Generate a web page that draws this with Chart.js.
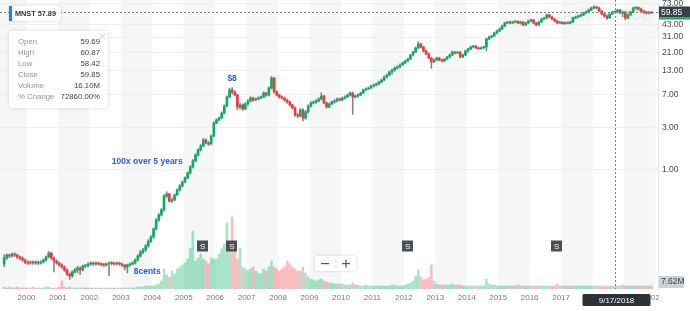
<!DOCTYPE html>
<html><head><meta charset="utf-8">
<script src="https://cdn.jsdelivr.net/npm/chart.js@4.4.1/dist/chart.umd.min.js"></script>
<style>html,body{margin:0;padding:0;background:#fff;}#wrap{width:690px;height:311px;position:relative;overflow:hidden}</style>
</head><body><div id="wrap"><canvas id="c" width="690" height="311"></canvas></div>
<script>
// ---- DATA (monthly candles, split-adjusted) ----
const startYear = 1999, startMonth = 4; // first candle: April 1999
const openP = [
 0.0880,0.1029,0.1112,0.1083,0.1141,0.1112,0.1056,0.1029,0.0977,
 0.0928,0.0904,0.0928,0.0904,0.0928,0.0904,0.0928,0.0977,0.1056,0.1171,0.1029,0.0952,
 0.0904,0.0859,0.0815,0.0755,0.0680,0.0646,0.0717,0.0755,0.0795,0.0755,0.0837,0.0852,
 0.0881,0.0904,0.0881,0.0904,0.0881,0.0868,0.0859,0.0881,0.0904,0.0890,0.0881,0.0904,
 0.0881,0.0859,0.0815,0.0859,0.0881,0.0904,0.0977,0.1083,0.1202,0.1266,0.1404,0.1597,
 0.1771,0.2178,0.2748,0.3127,0.3558,0.5109,0.5380,0.4490,0.4607,0.5242,0.5965,0.6615,
 0.7335,0.8133,0.9255,1.081,1.262,1.474,1.677,1.860,2.171,2.009,1.958,2.407,
 3.369,3.640,3.833,4.361,5.226,6.594,7.901,7.503,6.943,5.093,5.363,4.836,
 5.503,5.946,6.426,6.102,6.262,6.426,6.594,7.312,6.943,8.321,10.77,7.503,
 6.943,6.594,6.426,6.102,5.795,5.363,4.963,4.142,4.036,4.713,3.833,4.475,
 5.226,5.647,5.795,5.946,6.262,6.767,5.647,5.093,5.503,5.795,5.946,6.262,
 6.102,6.426,6.594,6.943,7.312,6.594,6.750,6.943,7.312,7.901,8.108,8.321,
 8.761,8.991,9.226,9.716,10.23,11.05,11.64,12.58,13.25,13.95,14.32,15.08,
 15.88,16.72,17.60,19.51,21.09,23.39,25.94,24.00,21.64,20.03,18.06,16.29,
 17.15,18.06,17.15,16.71,17.60,18.53,19.51,21.09,20.55,20.95,18.53,19.51,
 21.64,22.79,24.00,24.50,23.39,22.90,23.60,24.00,29.51,31.08,31.89,34.46,
 36.29,38.22,41.30,44.62,45.79,44.62,45.79,46.60,44.62,45.79,42.38,44.62,
 46.99,48.22,44.62,42.38,45.79,49.48,50.78,54.87,52.11,49.48,46.99,44.62,
 45.30,43.90,45.20,44.30,45.79,50.78,52.11,53.47,54.87,57.78,59.28,62.43,
 65.75,67.46,65.75,60.84,56.30,53.47,50.78,56.30,59.28,59.85,62.43,57.78,
 59.28,50.78,54.87,59.28,65.75,66.60,64.07,60.84,59.28,57.78,58.60
];
const highP = [
 0.112,0.115,0.114,0.117,0.118,0.114,0.109,0.106,0.101,
 0.0955,0.0960,0.0955,0.0960,0.0950,0.0960,0.1010,0.1090,0.1220,0.1200,0.1060,0.0985,
 0.0930,0.0890,0.0840,0.0780,0.0700,0.0740,0.0790,0.0830,0.0820,0.0860,0.0870,0.0910,
 0.0935,0.0930,0.0935,0.0930,0.0910,0.0900,0.0910,0.0935,0.0940,0.0925,0.0935,0.0925,
 0.0900,0.0870,0.0880,0.0910,0.0940,0.1010,0.1120,0.1250,0.1320,0.1460,0.1650,0.1840,
 0.2250,0.2850,0.3250,0.3700,0.5300,0.5700,0.5450,0.4850,0.5400,0.6150,0.6850,0.7550,
 0.840,0.955,1.120,1.310,1.530,1.740,1.930,2.260,2.240,2.080,2.480,3.480,
 3.760,3.960,4.500,5.400,6.800,8.300,8.400,7.750,7.100,5.600,5.550,5.700,
 6.150,6.650,6.600,6.450,6.650,6.800,7.550,7.450,8.600,11.20,10.90,7.750,
 7.100,6.800,6.600,6.250,5.950,5.500,5.100,4.350,4.900,4.900,4.650,5.400,
 5.850,5.950,6.150,6.450,7.350,6.900,5.800,5.650,5.950,6.150,6.450,6.400,
 6.600,6.800,7.150,7.550,7.500,6.950,7.150,7.500,8.100,8.350,8.550,9.000,
 9.250,9.500,9.950,10.50,11.35,11.95,12.90,13.60,14.40,14.80,15.50,16.30,
 17.10,18.00,19.90,21.60,24.00,27.50,26.50,24.50,22.20,20.60,18.50,17.70,
 18.50,18.40,17.60,17.90,18.90,20.00,21.70,21.50,21.40,21.30,19.90,22.10,
 23.30,24.60,25.10,24.90,23.80,24.10,24.60,30.20,31.80,32.60,35.20,37.10,
 39.10,42.20,45.60,46.80,46.80,46.80,47.50,47.30,46.80,46.30,45.60,48.00,
 49.30,49.00,45.60,46.80,50.60,52.00,56.20,56.00,53.20,50.50,48.00,46.20,
 46.30,46.10,46.00,46.80,51.90,53.30,54.70,56.10,59.00,60.60,63.80,67.20,
 70.20,68.90,67.20,62.20,57.50,55.00,57.60,60.60,60.87,63.80,63.50,60.60,
 60.60,56.20,60.60,67.20,68.00,67.40,65.50,62.20,60.50,59.90,59.50
];
const lowP = [
 0.082,0.099,0.104,0.105,0.107,0.101,0.098,0.094,0.089,
 0.0870,0.0875,0.0870,0.0875,0.0870,0.0875,0.0900,0.0950,0.1030,0.0990,0.0720,0.0875,
 0.0830,0.0785,0.0725,0.0650,0.0590,0.0625,0.0700,0.0700,0.0670,0.0735,0.0800,0.0810,
 0.0850,0.0850,0.0855,0.0850,0.0845,0.0825,0.0830,0.0650,0.0860,0.0850,0.0860,0.0850,
 0.0830,0.0760,0.0700,0.0835,0.0860,0.0880,0.0950,0.1050,0.1150,0.1220,0.1360,0.1540,
 0.1720,0.2120,0.2650,0.3050,0.3450,0.4900,0.4350,0.4300,0.4500,0.5150,0.5800,0.6450,
 0.715,0.795,0.900,1.050,1.230,1.430,1.630,1.820,1.950,1.880,1.920,2.360,
 3.300,3.550,3.750,4.250,5.100,6.450,7.150,6.800,4.750,4.850,4.650,4.750,
 5.350,5.800,5.900,6.000,6.150,6.300,6.450,6.700,6.800,8.100,7.300,6.750,
 6.350,6.250,5.900,5.600,5.200,4.800,4.000,3.850,3.950,3.550,3.700,4.350,
 5.050,5.500,5.600,5.800,6.100,5.500,4.950,5.000,5.400,5.600,5.800,5.950,
 5.950,6.250,6.450,6.800,4.200,6.400,6.550,6.800,7.200,7.700,7.950,8.200,
 8.550,8.750,9.000,9.500,10.00,10.80,11.40,11.90,12.80,13.50,14.00,14.90,
 15.60,16.40,17.30,19.20,20.70,23.00,23.50,21.10,19.60,17.60,13.80,16.10,
 16.80,16.80,16.30,16.40,17.30,18.20,19.20,20.10,20.20,18.10,18.20,19.20,
 21.20,22.40,23.50,23.00,22.50,22.60,23.00,21.60,28.80,30.30,31.30,33.80,
 35.50,37.60,40.60,43.70,43.50,43.80,44.80,43.80,43.20,41.40,41.80,44.00,
 45.80,43.50,41.40,41.80,44.90,48.40,49.90,51.00,48.30,46.00,43.50,43.80,
 43.20,43.10,43.60,43.50,45.00,49.60,51.00,52.30,53.90,56.80,58.20,61.40,
 64.30,63.80,59.30,54.80,51.60,49.00,50.00,55.10,58.42,58.00,56.40,52.50,
 48.60,50.00,54.20,58.50,63.40,62.00,59.60,56.90,56.20,56.30,56.70
];
const closeP = [
 0.1029,0.1112,0.1083,0.1141,0.1112,0.1056,0.1029,0.0977,0.0928,
 0.0904,0.0928,0.0904,0.0928,0.0904,0.0928,0.0977,0.1056,0.1171,0.1029,0.0952,0.0904,
 0.0859,0.0815,0.0755,0.0680,0.0646,0.0717,0.0755,0.0795,0.0755,0.0837,0.0852,0.0881,
 0.0904,0.0881,0.0904,0.0881,0.0868,0.0859,0.0881,0.0904,0.0890,0.0881,0.0904,0.0881,
 0.0859,0.0815,0.0859,0.0881,0.0904,0.0977,0.1083,0.1202,0.1266,0.1404,0.1597,0.1771,
 0.2178,0.2748,0.3127,0.3558,0.5109,0.5380,0.4490,0.4607,0.5242,0.5965,0.6615,0.7335,
 0.8133,0.9255,1.081,1.262,1.474,1.677,1.860,2.171,2.009,1.958,2.407,3.369,
 3.640,3.833,4.361,5.226,6.594,7.901,7.503,6.943,5.093,5.363,4.836,5.503,
 5.946,6.426,6.102,6.262,6.426,6.594,7.312,6.943,8.321,10.77,7.503,6.943,
 6.594,6.426,6.102,5.795,5.363,4.963,4.142,4.036,4.713,3.833,4.475,5.226,
 5.647,5.795,5.946,6.262,6.767,5.647,5.093,5.503,5.795,5.946,6.262,6.102,
 6.426,6.594,6.943,7.312,6.594,6.750,6.943,7.312,7.901,8.108,8.321,8.761,
 8.991,9.226,9.716,10.23,11.05,11.64,12.58,13.25,13.95,14.32,15.08,15.88,
 16.72,17.60,19.51,21.09,23.39,25.94,24.00,21.64,20.03,18.06,16.29,17.15,
 18.06,17.15,16.71,17.60,18.53,19.51,21.09,20.55,20.95,18.53,19.51,21.64,
 22.79,24.00,24.50,23.39,22.90,23.60,24.00,29.51,31.08,31.89,34.46,36.29,
 38.22,41.30,44.62,45.79,44.62,45.79,46.60,44.62,45.79,42.38,44.62,46.99,
 48.22,44.62,42.38,45.79,49.48,50.78,54.87,52.11,49.48,46.99,44.62,45.30,
 43.90,45.20,44.30,45.79,50.78,52.11,53.47,54.87,57.78,59.28,62.43,65.75,
 67.46,65.75,60.84,56.30,53.47,50.78,56.30,59.28,59.85,62.43,57.78,59.28,
 50.78,54.87,59.28,65.75,66.60,64.07,60.84,59.28,57.78,58.60,57.89
];
const volumeM = [
 2,1,2,1,1,2,1,1,1,
 1,1,2,1,1,1,1,2,2,1,1,1,
 2,8,2,1,2,1,1,1,1,1,1,1,
 1,1,1,1,1,1,1,1,1,1,1,1,
 1,1,1,1,1,1,2,2,2,3,3,3,
 3,4,5,8,20,14,12,18,15,20,22,24,
 26,30,41,58,28,31,35,30,28,25,31,30,
 30,35,40,45,66,40,72,45,30,41,22,20,
 18,20,22,18,16,15,20,18,22,28,22,20,
 18,20,22,28,25,22,20,18,18,22,16,12,
 10,9,8,9,10,8,7,6,6,5,5,5,
 5,4,4,4,6,4,4,3,3,4,3,3,
 3,3,3,3,3,3,3,4,4,3,3,3,
 4,5,6,8,13,19,12,9,10,12,24,8,
 5,4,4,4,4,4,5,4,4,4,3,3,
 3,3,3,3,3,3,3,10,5,4,4,3,
 3,3,3,3,3,3,3,4,3,3,3,3,
 3,3,3,3,3,3,3,3,3,3,5,3,
 3,3,3,3,3,3,3,3,3,3,3,3,
 3,3,3,3,3,3,3,3,3,3,3,4,
 3,3,3,3,3,3,3,3,3,3,3
];
const yTickValues = [1, 3, 7, 13, 21, 31, 43, 73];
const xTickYears = [2000,2001,2002,2003,2004,2005,2006,2007,2008,2009,2010,2011,2012,2013,2014,2015,2016,2017,2018,2019,2020];
const splitDates = [2005.60, 2006.53, 2012.12, 2016.86];
const notes = [
  {text: '$8', date: 2006.54, price: 10.5},
  {text: '100x over 5 years', date: 2003.84, price: 1.23},
  {text: '8cents', date: 2003.84, price: 0.0717}
];
const hover = {date: 2018.711, dateLabel: '9/17/2018', close: 59.85};
const tipLabels = ['Open', 'High', 'Low', 'Close', 'Volume', '% Change'];
const tipValues = ['59.69', '60.87', '58.42', '59.85', '16.10M', '72860.00%'];
const ticker = 'MNST', lastPrice = '57.89', lastVolume = '7.62M';

// ---- BUILD ----
const FONT = "'Liberation Sans', Arial, Helvetica, sans-serif";
Chart.defaults.font.family = FONT;
const GREEN = '#00b061', RED = '#ff333a';
const dates = closeP.map((_, i) => startYear + (startMonth - 1 + i + 0.5) / 12);
const up = closeP.map((c, i) => c >= openP[i]);

const bandsPlugin = {
  id: 'bands',
  beforeDraw(chart) {
    const {ctx, chartArea: a, scales: {x}} = chart;
    ctx.save();
    ctx.fillStyle = '#f5f6f6';
    for (let yr = 1999; yr <= 2019; yr += 2) {
      const x0 = Math.max(a.left, x.getPixelForValue(yr));
      const x1 = Math.min(a.right, x.getPixelForValue(yr + 1));
      if (x1 > x0) ctx.fillRect(x0, a.top, x1 - x0, a.bottom - a.top);
    }
    ctx.restore();
  },
  beforeDatasetsDraw(chart) {
    const {ctx, chartArea: a} = chart;
    ctx.save();
    ctx.font = "bold 19px " + FONT;
    ctx.fillStyle = 'rgba(0,0,0,0.04)';
    ctx.textAlign = 'right';
    ctx.textBaseline = 'middle';
    ctx.fillText('yahoo!finance', a.right - 6, 15);
    ctx.restore();
  }
};

function rrect(ctx, x, y, w, h, r) {
  ctx.beginPath();
  ctx.moveTo(x + r, y);
  ctx.arcTo(x + w, y, x + w, y + h, r);
  ctx.arcTo(x + w, y + h, x, y + h, r);
  ctx.arcTo(x, y + h, x, y, r);
  ctx.arcTo(x, y, x + w, y, r);
  ctx.closePath();
}

const overlayPlugin = {
  id: 'overlay',
  afterDraw(chart) {
    const {ctx, chartArea: a, scales: {x, y}} = chart;
    ctx.save();
    // crosshair
    ctx.strokeStyle = '#7d8287';
    ctx.lineWidth = 1;
    ctx.setLineDash([2, 2]);
    const hy = Math.round(y.getPixelForValue(hover.close)) + 0.5;
    const hx = Math.round(x.getPixelForValue(hover.date)) + 0.5;
    ctx.beginPath(); ctx.moveTo(a.left, hy); ctx.lineTo(a.right, hy); ctx.stroke();
    ctx.beginPath(); ctx.moveTo(hx, a.top); ctx.lineTo(hx, a.bottom); ctx.stroke();
    ctx.setLineDash([]);

    // split markers
    ctx.font = "8px " + FONT;
    ctx.textAlign = 'center'; ctx.textBaseline = 'middle';
    splitDates.forEach(d => {
      const px = x.getPixelForValue(d), py = a.bottom - 43;
      ctx.fillStyle = '#4b5056';
      ctx.fillRect(Math.round(px - 5.5), py - 5.5, 11, 11);
      ctx.fillStyle = '#fff';
      ctx.fillText('S', px, py + 0.5);
    });

    // annotations
    ctx.font = "bold 8.5px " + FONT;
    ctx.fillStyle = '#2a5bf0';
    notes.forEach(n => {
      ctx.fillText(n.text, x.getPixelForValue(n.date), y.getPixelForValue(n.price));
    });

    // zoom control
    ctx.shadowColor = 'rgba(0,0,0,0.18)'; ctx.shadowBlur = 3;
    ctx.fillStyle = '#fff';
    rrect(ctx, 315, 256, 41, 15, 2); ctx.fill();
    ctx.shadowBlur = 0; ctx.shadowColor = 'transparent';
    ctx.fillStyle = '#555';
    ctx.fillRect(321, 263, 8, 1.2);
    ctx.fillRect(342, 263, 8, 1.2);
    ctx.fillRect(345.4, 259.6, 1.2, 8);
    ctx.fillStyle = '#ddd';
    ctx.fillRect(335.5, 259, 1, 9);

    // ticker label
    ctx.shadowColor = 'rgba(0,0,0,0.18)'; ctx.shadowBlur = 3;
    ctx.fillStyle = '#fff';
    rrect(ctx, 9, 6, 52, 15, 2); ctx.fill();
    ctx.shadowBlur = 0; ctx.shadowColor = 'transparent';
    ctx.fillStyle = '#1a82f7';
    ctx.fillRect(9, 6, 3, 15);
    ctx.fillStyle = '#333';
    ctx.font = "bold 7.3px " + FONT;
    ctx.textAlign = 'left';
    ctx.fillText(ticker + ' ' + lastPrice, 15, 14);

    // tooltip panel
    ctx.shadowColor = 'rgba(0,0,0,0.15)'; ctx.shadowBlur = 4;
    ctx.fillStyle = '#fff';
    rrect(ctx, 9, 31, 99, 77, 3); ctx.fill();
    ctx.shadowBlur = 0; ctx.shadowColor = 'transparent';
    ctx.font = "7.8px " + FONT;
    tipLabels.forEach((l, i) => {
      const ty = 42 + i * 10.9;
      ctx.textAlign = 'left'; ctx.fillStyle = '#8f9398';
      ctx.fillText(l, 18, ty);
      ctx.textAlign = 'right'; ctx.fillStyle = '#3b3f44';
      ctx.fillText(tipValues[i], 100, ty);
    });
    ctx.strokeStyle = '#b9bcc0'; ctx.lineWidth = 0.8;
    ctx.beginPath(); ctx.moveTo(100, 34); ctx.lineTo(105, 39); ctx.moveTo(105, 34); ctx.lineTo(100, 39); ctx.stroke();

    // clip right end of x labels
    ctx.fillStyle = '#fff';
    ctx.fillRect(a.right + 1, a.bottom + 1, chart.width - a.right, chart.height - a.bottom);

    // price tag
    ctx.fillStyle = '#3a3f45';
    ctx.fillRect(a.right + 1, hy - 6, 31, 11);
    ctx.fillStyle = GREEN;
    ctx.fillRect(a.right + 1, hy + 5, 31, 2);
    ctx.fillStyle = '#fff';
    ctx.font = "8.5px " + FONT;
    ctx.textAlign = 'left';
    ctx.fillText(hover.close.toFixed(2), a.right + 3, hy);

    // volume tag
    ctx.fillStyle = '#cfd2d5';
    ctx.fillRect(a.right + 1, a.bottom - 13, 25, 12);
    ctx.fillStyle = '#3a3f45';
    ctx.fillText(lastVolume, a.right + 3, a.bottom - 7);

    // date tag
    ctx.fillStyle = '#2d3135';
    rrect(ctx, hx - 33, a.bottom + 5, 68, 12, 1.5); ctx.fill();
    ctx.fillStyle = '#fff';
    ctx.textAlign = 'center';
    ctx.font = "8px " + FONT;
    ctx.fillText(hover.dateLabel, hx + 1, a.bottom + 11.5);
    ctx.restore();
  }
};

new Chart(document.getElementById('c'), {
  type: 'bar',
  data: {
    datasets: [
      {
        label: 'bodies',
        data: dates.map((d, i) => ({x: d, y: [openP[i], closeP[i]]})),
        backgroundColor: up.map(u => u ? GREEN : RED),
        barThickness: 2, minBarLength: 1, grouped: false, order: 1, yAxisID: 'y'
      },
      {
        label: 'wicks',
        data: dates.map((d, i) => ({x: d, y: [lowP[i], highP[i]]})),
        backgroundColor: 'rgba(95,98,102,0.75)',
        barThickness: 1, grouped: false, order: 2, yAxisID: 'y'
      },
      {
        label: 'volume',
        data: dates.map((d, i) => ({x: d, y: volumeM[i]})),
        backgroundColor: up.map(u => u ? 'rgba(0,176,97,0.34)' : 'rgba(255,51,58,0.32)'),
        barThickness: 2, grouped: false, order: 3, yAxisID: 'yv'
      }
    ]
  },
  options: {
    responsive: false,
    animation: false,
    events: [],
    layout: {padding: 0},
    plugins: {legend: {display: false}, tooltip: {enabled: false}},
    scales: {
      x: {
        type: 'linear', min: 1999.16, max: 2020.08, offset: false,
        grid: {display: false, drawTicks: false, offset: false},
        border: {display: false},
        afterBuildTicks: s => { s.ticks = xTickYears.map(v => ({value: v})); },
        afterFit: s => { s.height = 22; s.paddingLeft = 0; s.paddingRight = 0; },
        ticks: {autoSkip: false, maxRotation: 0, minRotation: 0, padding: 4,
                callback: v => String(v), font: {size: 8}, color: '#76797e'}
      },
      y: {
        type: 'logarithmic', position: 'right', min: 0.0462, max: 80.84,
        afterBuildTicks: s => { s.ticks = yTickValues.map(v => ({value: v})); },
        afterFit: s => { s.width = 32; s.paddingTop = 0; s.paddingBottom = 0; },
        grid: {color: '#eceef0', drawTicks: false},
        border: {display: true, color: '#e3e5e7'},
        ticks: {autoSkip: false, padding: 4, callback: v => Number(v).toFixed(2),
                font: {size: 8.5}, color: '#464b51'}
      },
      yv: {type: 'linear', display: false, min: 0, max: 289}
    }
  },
  plugins: [bandsPlugin, overlayPlugin]
});
</script>
</body></html>
